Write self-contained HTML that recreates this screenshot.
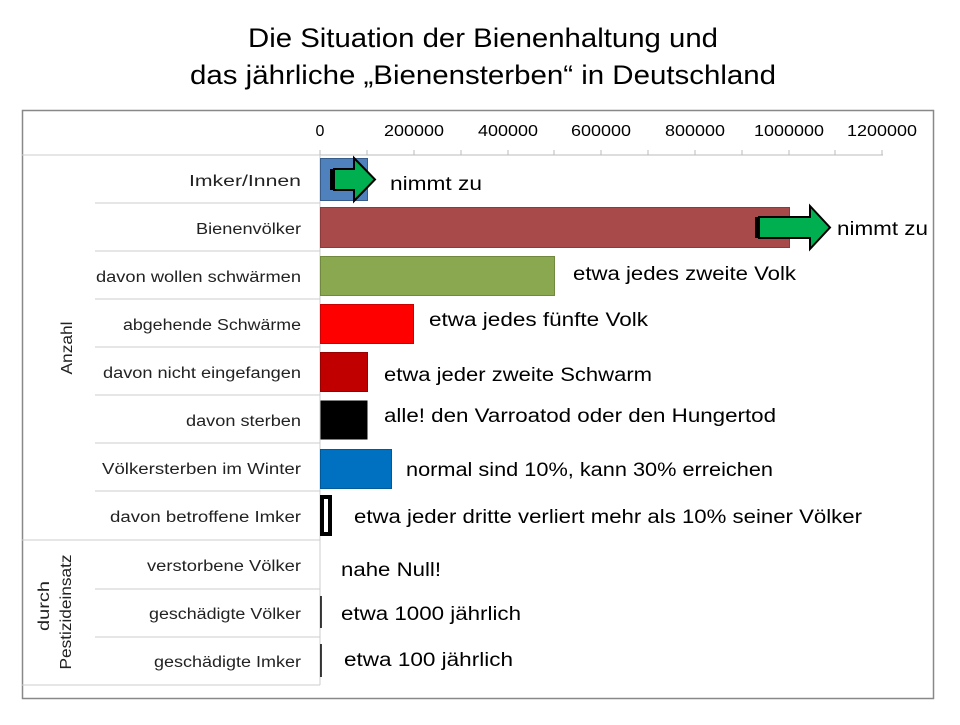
<!DOCTYPE html>
<html><head><meta charset="utf-8"><style>
body{margin:0;background:#fff;}
svg text{font-family:"Liberation Sans",sans-serif;}
</style></head><body>
<svg width="960" height="720" viewBox="0 0 960 720" xmlns="http://www.w3.org/2000/svg">
<text x="248" y="47" font-size="27" textLength="470" lengthAdjust="spacingAndGlyphs">Die Situation der Bienenhaltung und</text>
<text x="190" y="84" font-size="27" textLength="586" lengthAdjust="spacingAndGlyphs">das jährliche „Bienensterben“ in Deutschland</text>
<rect x="22.5" y="110.5" width="911" height="588" fill="none" stroke="#888" stroke-width="1.5"/>
<g font-size="16" text-anchor="middle" fill="#000" lengthAdjust="spacingAndGlyphs">
<text x="320" y="136">0</text>
<text x="414" y="136" textLength="60" lengthAdjust="spacingAndGlyphs">200000</text>
<text x="508" y="136" textLength="60" lengthAdjust="spacingAndGlyphs">400000</text>
<text x="601" y="136" textLength="60" lengthAdjust="spacingAndGlyphs">600000</text>
<text x="695" y="136" textLength="60" lengthAdjust="spacingAndGlyphs">800000</text>
<text x="789" y="136" textLength="70" lengthAdjust="spacingAndGlyphs">1000000</text>
<text x="882" y="136" textLength="70" lengthAdjust="spacingAndGlyphs">1200000</text>
</g>
<line x1="320" y1="155" x2="883" y2="155" stroke="#bbb"/>
<g stroke="#bbb">
<line x1="320" y1="150" x2="320" y2="155"/><line x1="367" y1="150" x2="367" y2="155"/><line x1="414" y1="150" x2="414" y2="155"/><line x1="461" y1="150" x2="461" y2="155"/><line x1="508" y1="150" x2="508" y2="155"/><line x1="554" y1="150" x2="554" y2="155"/><line x1="601" y1="150" x2="601" y2="155"/><line x1="648" y1="150" x2="648" y2="155"/><line x1="695" y1="150" x2="695" y2="155"/><line x1="742" y1="150" x2="742" y2="155"/><line x1="789" y1="150" x2="789" y2="155"/><line x1="835" y1="150" x2="835" y2="155"/><line x1="882" y1="150" x2="882" y2="155"/>
</g>
<g stroke="#ccc">
<line x1="22" y1="155" x2="320" y2="155"/>
<line x1="95" y1="203" x2="320" y2="203"/><line x1="95" y1="251" x2="320" y2="251"/><line x1="95" y1="299" x2="320" y2="299"/><line x1="95" y1="347" x2="320" y2="347"/><line x1="95" y1="395" x2="320" y2="395"/><line x1="95" y1="443" x2="320" y2="443"/><line x1="95" y1="491" x2="320" y2="491"/>
<line x1="22" y1="540" x2="320" y2="540"/>
<line x1="95" y1="589" x2="320" y2="589"/><line x1="95" y1="637" x2="320" y2="637"/>
<line x1="22" y1="685" x2="320" y2="685"/>
<line x1="320" y1="155" x2="320" y2="685"/>
</g>
<g font-size="15.5" text-anchor="end" fill="#222">
<text x="301" y="186" textLength="112" lengthAdjust="spacingAndGlyphs">Imker/Innen</text>
<text x="301" y="234" textLength="105" lengthAdjust="spacingAndGlyphs">Bienenvölker</text>
<text x="301" y="282" textLength="205" lengthAdjust="spacingAndGlyphs">davon wollen schwärmen</text>
<text x="301" y="330" textLength="178" lengthAdjust="spacingAndGlyphs">abgehende Schwärme</text>
<text x="301" y="378" textLength="198" lengthAdjust="spacingAndGlyphs">davon nicht eingefangen</text>
<text x="301" y="426" textLength="115" lengthAdjust="spacingAndGlyphs">davon sterben</text>
<text x="301" y="474" textLength="199" lengthAdjust="spacingAndGlyphs">Völkersterben im Winter</text>
<text x="301" y="522" textLength="191" lengthAdjust="spacingAndGlyphs">davon betroffene Imker</text>
<text x="301" y="571" textLength="154" lengthAdjust="spacingAndGlyphs">verstorbene Völker</text>
<text x="301" y="619" textLength="152" lengthAdjust="spacingAndGlyphs">geschädigte Völker</text>
<text x="301" y="667" textLength="147" lengthAdjust="spacingAndGlyphs">geschädigte Imker</text>
</g>
<text transform="translate(72,348) rotate(-90)" font-size="15.5" text-anchor="middle" fill="#222" textLength="53" lengthAdjust="spacingAndGlyphs">Anzahl</text>
<text transform="translate(49,606) rotate(-90)" font-size="15.5" text-anchor="middle" fill="#222" textLength="50" lengthAdjust="spacingAndGlyphs">durch</text>
<text transform="translate(71,612) rotate(-90)" font-size="15.5" text-anchor="middle" fill="#222" textLength="115" lengthAdjust="spacingAndGlyphs">Pestizideinsatz</text>
<rect x="320.5" y="158.5" width="47" height="42" fill="#4f81bd" stroke="#385d8a"/>
<rect x="320.5" y="207.5" width="469" height="40" fill="#a84a4a" stroke="#8c3a3a"/>
<rect x="320.5" y="256.5" width="234" height="39" fill="#8aa84f" stroke="#71893f"/>
<rect x="320.5" y="304.5" width="93" height="39" fill="#ff0000" stroke="#cc0000"/>
<rect x="320.5" y="352.5" width="47" height="39" fill="#c00000" stroke="#900"/>
<rect x="320.5" y="400.5" width="47" height="39" fill="#000"/>
<rect x="320.5" y="449.5" width="71" height="39" fill="#0070c0" stroke="#005a9a"/>
<rect x="322" y="497" width="8" height="37" fill="#fff" stroke="#000" stroke-width="4"/>
<line x1="321" y1="596" x2="321" y2="628" stroke="#000" stroke-width="1.5"/>
<line x1="321" y1="644" x2="321" y2="677" stroke="#000" stroke-width="1.5"/>
<rect x="330" y="169" width="8" height="21" fill="#000"/>
<path d="M334,169 H354 V158 L375,179.5 L354,201 V190 H334 Z" fill="#00b050" stroke="#000" stroke-width="2"/>
<rect x="755" y="217" width="8" height="21" fill="#000"/>
<path d="M759,217 H810 V206 L830,227.5 L810,249 V238 H759 Z" fill="#00b050" stroke="#000" stroke-width="2"/>
<g font-size="19" fill="#000">
<text x="390" y="190" textLength="92" lengthAdjust="spacingAndGlyphs">nimmt zu</text>
<text x="837" y="235" textLength="91" lengthAdjust="spacingAndGlyphs">nimmt zu</text>
<text x="573" y="280" textLength="223" lengthAdjust="spacingAndGlyphs">etwa jedes zweite Volk</text>
<text x="429" y="326" textLength="219" lengthAdjust="spacingAndGlyphs">etwa jedes fünfte Volk</text>
<text x="384" y="381" textLength="268" lengthAdjust="spacingAndGlyphs">etwa jeder zweite Schwarm</text>
<text x="384" y="422" textLength="392" lengthAdjust="spacingAndGlyphs">alle! den Varroatod oder den Hungertod</text>
<text x="406" y="476" textLength="367" lengthAdjust="spacingAndGlyphs">normal sind 10%, kann 30% erreichen</text>
<text x="354" y="523" textLength="508" lengthAdjust="spacingAndGlyphs">etwa jeder dritte verliert mehr als 10% seiner Völker</text>
<text x="341" y="576" textLength="100" lengthAdjust="spacingAndGlyphs">nahe Null!</text>
<text x="341" y="620" textLength="180" lengthAdjust="spacingAndGlyphs">etwa 1000 jährlich</text>
<text x="344" y="666" textLength="169" lengthAdjust="spacingAndGlyphs">etwa 100 jährlich</text>
</g>
</svg>
</body></html>
